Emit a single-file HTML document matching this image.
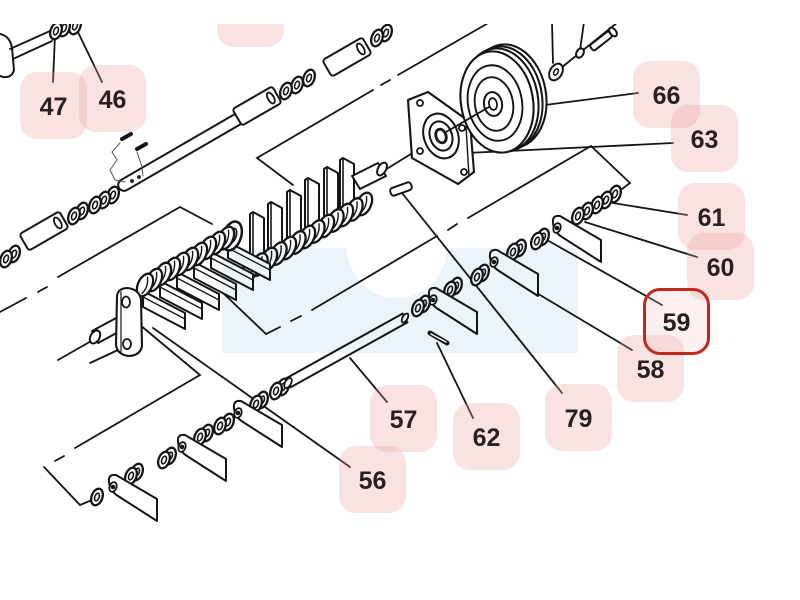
<!DOCTYPE html>
<html>
<head>
<meta charset="utf-8">
<style>
html,body{margin:0;padding:0;}
body{width:800px;height:600px;background:#fff;overflow:hidden;position:relative;font-family:"Liberation Sans",sans-serif;}
svg{position:absolute;left:0;top:0;}
.l{position:absolute;width:67px;height:67px;box-sizing:border-box;border-radius:17px;background:rgba(235,160,160,0.30);display:flex;align-items:center;justify-content:center;font-weight:bold;font-size:25px;color:#2a2020;line-height:1;padding-top:3px;}
.red{border:3px solid #c0281e;background:rgba(240,190,190,0.25);}
.top{position:absolute;left:0;top:0;width:800px;height:24px;background:#fff;}
</style>
</head>
<body>
<svg width="800" height="600" viewBox="0 0 800 600">
<defs>
  <g id="w">
    <ellipse rx="5.4" ry="8.6" transform="rotate(20)" fill="#fff" stroke="#151515" stroke-width="2.3"/>
    <ellipse rx="2.2" ry="4" transform="rotate(20)" fill="none" stroke="#151515" stroke-width="1.6"/>
  </g>
  <g id="s">
    <ellipse rx="3.5" ry="5" transform="rotate(20)" fill="#fff" stroke="#151515" stroke-width="1.8"/>
    <circle r="1.4" fill="#151515"/>
  </g>
  <path id="bl" d="M-4,-5 Q-5,-13 3,-12 L44,12 L44,34 L5,9 Q-3,4 -4,-5 Z" fill="#fff" stroke="#151515" stroke-width="2" stroke-linejoin="round"/>
  <g id="t">
    <rect x="-23" y="-9.5" width="46" height="19" rx="3" fill="#fff" stroke="#151515" stroke-width="2"/>
    <ellipse cx="16" cy="0" rx="3" ry="6" fill="none" stroke="#151515" stroke-width="1.8"/>
  </g>
  <g id="c">
    <ellipse rx="7" ry="12" transform="rotate(25)" fill="#fff" stroke="#151515" stroke-width="2.3"/>
    <path d="M-1,-8 Q4,0 1,9" transform="rotate(25)" fill="none" stroke="#151515" stroke-width="1.4"/>
  </g>
  <g id="lb">
    <polygon points="0,-4 42,18 42,34 0,12" fill="#fff" stroke="#151515" stroke-width="2" stroke-linejoin="round"/>
    <line x1="0" y1="2" x2="42" y2="24" stroke="#151515" stroke-width="1.3"/>
  </g>
  <g id="up">
    <polygon points="-3,2 0,0 11,6 11,58 0,52 -3,54" fill="#fff" stroke="#151515" stroke-width="2" stroke-linejoin="round"/>
    <line x1="0" y1="0" x2="0" y2="52" stroke="#151515" stroke-width="1.6"/>
  </g>
</defs>

<g stroke="#151515" stroke-width="1.8" fill="none" stroke-linecap="round">

  <!-- dash-dot bracket A -->
  <polyline points="293,185 257,158 373,90"/>
  <line x1="381" y1="85" x2="390" y2="80"/>
  <line x1="398" y1="75" x2="490" y2="22"/>
  <!-- bracket B -->
  <polyline points="212,224 180,207 58,277"/>
  <line x1="47" y1="287" x2="38" y2="292"/>
  <line x1="26" y1="298" x2="0" y2="312"/>
  <!-- bracket C -->
  <polyline points="622,189 630,183 591,146 468,218"/>
  <line x1="457" y1="224" x2="448" y2="230"/>
  <line x1="437" y1="236" x2="312" y2="310"/>
  <line x1="301" y1="316" x2="291" y2="321"/>
  <polyline points="280,327 266,334 222,292"/>
  <!-- bracket D -->
  <polyline points="140,325 200,375 75,448"/>
  <line x1="64" y1="456" x2="55" y2="461"/>
  <polyline points="44,467 80,505 92,500"/>

  <!-- leaders -->
  <line x1="55" y1="35" x2="53" y2="82"/>
  <line x1="77" y1="30" x2="102" y2="82"/>
  <line x1="545" y1="105" x2="638" y2="93"/>
  <line x1="467" y1="153" x2="673" y2="143"/>
  <line x1="613" y1="203" x2="687" y2="215"/>
  <line x1="585" y1="222" x2="697" y2="257"/>
  <line x1="547" y1="240" x2="662" y2="305"/>
  <line x1="535" y1="292" x2="632" y2="350"/>
  <line x1="402" y1="193" x2="562" y2="393"/>
  <line x1="437" y1="343" x2="473" y2="418"/>
  <line x1="350" y1="358" x2="387" y2="402"/>
  <line x1="153" y1="328" x2="350" y2="467"/>
  <line x1="58" y1="360" x2="93" y2="340"/>
  <line x1="90" y1="363" x2="118" y2="350"/>
  <line x1="385" y1="170" x2="440" y2="136"/>

  <!-- top-left bracket / rod -->
  <path d="M0,34 Q10,36 12,48 L14,70 Q12,78 3,77 L0,76" fill="#fff" stroke-width="2"/>
  <line x1="10" y1="49" x2="50" y2="31"/>
  <line x1="13" y1="59" x2="52" y2="41"/>
  <use href="#w" x="75" y="26"/>
  <use href="#w" x="64" y="28"/>
  <use href="#w" x="56" y="31"/>

  <!-- upper-left rod assembly -->
  <use href="#w" x="386" y="33"/>
  <use href="#w" x="377" y="38"/>
  <use href="#t" transform="translate(347,57) rotate(-30)"/>
  <use href="#w" x="309" y="78"/>
  <use href="#w" x="297" y="85"/>
  <use href="#w" x="286" y="91"/>
  <use href="#t" transform="translate(257,106) rotate(-30)"/>
  <path d="M121,180 L235,114 L241,124 L127,190 A5.5,5.5 0 0 1 121,180 Z" fill="#fff" stroke-width="2"/>
  <circle cx="132" cy="181" r="1.9" fill="#151515" stroke="none"/>
  <circle cx="139" cy="177" r="1.9" fill="#151515" stroke="none"/>
  <use href="#w" x="113" y="195"/>
  <use href="#w" x="104" y="200"/>
  <use href="#w" x="95" y="205"/>
  <use href="#w" x="82" y="211"/>
  <use href="#w" x="74" y="216"/>
  <use href="#t" transform="translate(44,231) rotate(-30)"/>
  <use href="#w" x="14" y="254"/>
  <use href="#w" x="6" y="259"/>

  <!-- pins near 46 -->
  <g stroke="#555" stroke-width="1">
    <polyline points="120,143 112,152 117,160 110,170 115,180 125,182"/>
    <polyline points="137,152 142,167 143,176"/>
  </g>
  <line x1="122" y1="139" x2="131" y2="134" stroke-width="4"/>
  <line x1="137" y1="149" x2="146" y2="144" stroke-width="4"/>

  <!-- upper plates of comb -->
  <use href="#up" x="343" y="158"/>
  <use href="#up" x="327" y="167"/>
  <use href="#up" x="308" y="178"/>
  <use href="#up" x="290" y="190"/>
  <use href="#up" x="271" y="202"/>
  <use href="#up" x="253" y="212"/>
  <!-- stub -->
  <polygon points="352,176 378,163 386,176 360,189" fill="#fff" stroke-width="2" stroke-linejoin="round"/>
  <ellipse cx="382" cy="169" rx="4" ry="7" transform="rotate(30 382 169)" fill="#fff" stroke-width="2"/>
  <!-- upper coils -->
  <use href="#c" x="364" y="204"/>
  <use href="#c" x="354.5" y="209.5"/>
  <use href="#c" x="345" y="215"/>
  <use href="#c" x="335.5" y="220.5"/>
  <use href="#c" x="326" y="226"/>
  <use href="#c" x="316.5" y="231.5"/>
  <use href="#c" x="307" y="237"/>
  <use href="#c" x="297.5" y="242.5"/>
  <use href="#c" x="288" y="248"/>
  <use href="#c" x="278.5" y="253.5"/>
  <use href="#c" x="269" y="259"/>
  <use href="#c" x="259.5" y="264.5"/>
  <use href="#c" x="250" y="270"/>

  <!-- lower-left comb blades -->
  <use href="#lb" x="228" y="246"/>
  <use href="#lb" x="211" y="256"/>
  <use href="#lb" x="194" y="266"/>
  <use href="#lb" x="177" y="276"/>
  <use href="#lb" x="160" y="285"/>
  <use href="#lb" x="143" y="295"/>
  <!-- big washer -->
  <ellipse cx="232" cy="236" rx="9" ry="15" transform="rotate(20 232 236)" fill="#fff" stroke-width="2.5"/>
  <ellipse cx="232" cy="236" rx="4" ry="8" transform="rotate(20 232 236)" fill="none" stroke-width="1.7"/>
  <!-- lower-left coils -->
  <use href="#c" x="226" y="238"/>
  <use href="#c" x="217" y="243"/>
  <use href="#c" x="208" y="248"/>
  <use href="#c" x="199" y="254"/>
  <use href="#c" x="190" y="259"/>
  <use href="#c" x="181" y="264"/>
  <use href="#c" x="172" y="269"/>
  <use href="#c" x="163" y="274"/>
  <use href="#c" x="154" y="280"/>
  <use href="#c" x="145" y="285"/>

  <!-- crank -->
  <polygon points="92,331 118,317 124,329 98,343" fill="#fff" stroke-width="2" stroke-linejoin="round"/>
  <ellipse cx="95" cy="337" rx="4.5" ry="7" transform="rotate(30 95 337)" fill="#fff" stroke-width="2"/>
  <path d="M117,296 Q118,288 128,288 Q140,290 141,300 L142,346 Q140,356 128,356 Q117,354 116,345 Z" fill="#fff" stroke-width="2.1"/>
  <line x1="121" y1="292" x2="121" y2="352" stroke-width="1.2"/>
  <ellipse cx="126" cy="302" rx="4" ry="5.5" fill="#fff" stroke-width="1.8"/>
  <ellipse cx="127" cy="344" rx="4" ry="5" fill="#fff" stroke-width="1.8"/>

  <!-- lower row L -->
  <use href="#w" x="283" y="387"/>
  <use href="#w" x="276" y="391"/>
  <use href="#w" x="262" y="400"/>
  <use href="#w" x="256" y="404"/>
  <use href="#bl" x="238" y="413"/>
  <use href="#s" x="238" y="413"/>
  <use href="#w" x="228" y="422"/>
  <use href="#w" x="220" y="426"/>
  <use href="#w" x="207" y="433"/>
  <use href="#w" x="200" y="437"/>
  <use href="#bl" x="182" y="447"/>
  <use href="#s" x="182" y="447"/>
  <use href="#w" x="170" y="456"/>
  <use href="#w" x="164" y="460"/>
  <use href="#w" x="137" y="472"/>
  <use href="#w" x="131" y="476"/>
  <use href="#bl" x="113" y="487"/>
  <use href="#s" x="113" y="487"/>
  <use href="#w" x="97" y="497"/>

  <!-- lower rod 57 -->
  <polygon points="285.6,378.6 402.6,313.6 407.4,322.4 290.4,387.4" fill="#fff" stroke-width="2" stroke-linejoin="round"/>
  <ellipse cx="288" cy="383" rx="3" ry="5.5" transform="rotate(30 288 383)" fill="#fff" stroke-width="1.8"/>
  <ellipse cx="405" cy="318" rx="2.5" ry="5" transform="rotate(30 405 318)" fill="#fff" stroke-width="1.8"/>

  <!-- middle row M -->
  <use href="#w" x="615" y="194"/>
  <use href="#w" x="606" y="200"/>
  <use href="#w" x="597" y="205"/>
  <use href="#w" x="587" y="211"/>
  <use href="#w" x="578" y="216"/>
  <use href="#bl" x="557" y="228"/>
  <use href="#s" x="557" y="228"/>
  <use href="#w" x="543" y="237"/>
  <use href="#w" x="537" y="241"/>
  <use href="#w" x="520" y="248"/>
  <use href="#w" x="513" y="252"/>
  <use href="#bl" x="494" y="262"/>
  <use href="#s" x="494" y="262"/>
  <use href="#w" x="483" y="273"/>
  <use href="#w" x="477" y="277"/>
  <use href="#w" x="456" y="286"/>
  <use href="#w" x="450" y="290"/>
  <use href="#bl" x="433" y="300"/>
  <use href="#s" x="433" y="300"/>
  <use href="#w" x="424" y="304"/>
  <use href="#w" x="418" y="308"/>

  <!-- pin 62 -->
  <line x1="430" y1="333" x2="447" y2="343" stroke-width="5"/>
  <line x1="431" y1="334" x2="446" y2="342" stroke="#fff" stroke-width="1.5"/>
  <!-- pin 79 -->
  <rect x="390" y="185" width="22" height="8" rx="3" transform="rotate(-20 401 189)" fill="#fff" stroke-width="2"/>

  <!-- flange -->
  <polygon points="408,100 428,92 470,122 474,172 458,184 412,158" fill="#fff" stroke-width="2.1" stroke-linejoin="round"/>
  <polyline points="466,126 469,176 458,184" stroke-width="1.4"/>
  <circle cx="420" cy="103" r="3" fill="#fff"/>
  <circle cx="462" cy="128" r="3" fill="#fff"/>
  <circle cx="464" cy="172" r="3" fill="#fff"/>
  <circle cx="420" cy="151" r="3" fill="#fff"/>
  <ellipse cx="441" cy="136" rx="17" ry="23" transform="rotate(-20 441 136)" fill="#fff" stroke-width="2"/>
  <ellipse cx="441" cy="136" rx="11" ry="15" transform="rotate(-20 441 136)" fill="#fff" stroke-width="2"/>
  <ellipse cx="441" cy="136" rx="5" ry="7" transform="rotate(-20 441 136)" fill="#fff" stroke-width="2.8"/>

  <!-- pulley -->
  <ellipse cx="509" cy="96" rx="37" ry="52" transform="rotate(-10 509 96)" fill="#fff" stroke-width="2.1"/>
  <ellipse cx="505" cy="98" rx="37" ry="52" transform="rotate(-10 505 98)" fill="#fff" stroke-width="2.1"/>
  <ellipse cx="501" cy="100" rx="37" ry="52" transform="rotate(-10 501 100)" fill="#fff" stroke-width="2.1"/>
  <ellipse cx="497" cy="102" rx="36" ry="51" transform="rotate(-10 497 102)" fill="#fff" stroke-width="2.1"/>
  <ellipse cx="495" cy="103" rx="27" ry="38" transform="rotate(-10 495 103)" stroke-width="1.9"/>
  <ellipse cx="494" cy="104" rx="19" ry="27" transform="rotate(-10 494 104)" stroke-width="1.9"/>
  <ellipse cx="493" cy="104" rx="9" ry="12" transform="rotate(-10 493 104)" fill="#fff" stroke-width="2"/>
  <ellipse cx="493" cy="104" rx="4" ry="6" transform="rotate(-10 493 104)" stroke-width="1.8"/>
  <line x1="446" y1="132" x2="489" y2="107"/>

  <!-- top-right bolts -->
  <line x1="552" y1="22" x2="553" y2="63"/>
  <line x1="556" y1="72" x2="618" y2="22"/>
  <line x1="584" y1="22" x2="580" y2="50"/>
  <ellipse cx="556" cy="72" rx="6" ry="9" transform="rotate(30 556 72)" fill="#fff" stroke-width="2"/>
  <ellipse cx="556" cy="72" rx="2" ry="3.5" transform="rotate(30 556 72)" stroke-width="1.5"/>
  <ellipse cx="580" cy="53" rx="3.5" ry="5" transform="rotate(30 580 53)" fill="#fff" stroke-width="2"/>
  <rect x="589" y="37.5" width="24" height="7" rx="2" transform="rotate(-38 601 41)" fill="#fff" stroke-width="2"/>
  <ellipse cx="613" cy="32" rx="3" ry="5" transform="rotate(-38 613 32)" fill="#fff" stroke-width="2"/>
</g>

<!-- watermark overlay -->
<path d="M222,248 H347 A50,50 0 0 0 447,248 H578 V353 H222 Z" fill="#ebf5f9" style="mix-blend-mode:multiply"/>
</svg>

<div class="l" style="left:217px;top:-20px;"></div>
<div class="l" style="left:20px;top:72px;">47</div>
<div class="l" style="left:79px;top:65px;">46</div>
<div class="l" style="left:633px;top:61px;">66</div>
<div class="l" style="left:671px;top:105px;">63</div>
<div class="l" style="left:678px;top:183px;">61</div>
<div class="l" style="left:687px;top:233px;">60</div>
<div class="l" style="left:617px;top:335px;">58</div>
<div class="l red" style="left:643px;top:288px;">59</div>
<div class="l" style="left:545px;top:384px;">79</div>
<div class="l" style="left:453px;top:403px;">62</div>
<div class="l" style="left:370px;top:385px;">57</div>
<div class="l" style="left:339px;top:446px;">56</div>

<div class="top"></div>
</body>
</html>
